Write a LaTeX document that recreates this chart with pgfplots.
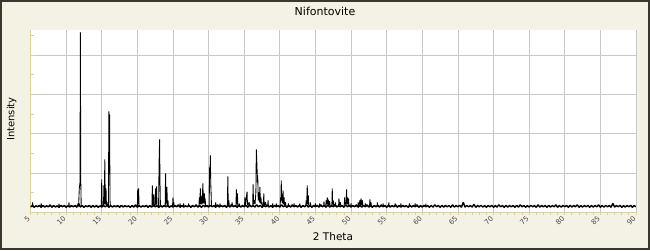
\documentclass[border=0pt]{standalone}
\usepackage{fontspec}
\setmainfont{DejaVu Sans}
\usepackage{pgfplots}
\pgfplotsset{compat=1.18}
\definecolor{bgc}{HTML}{F4F1E5}
\definecolor{bordc}{HTML}{3A3630}
\definecolor{axisc}{HTML}{DDD397}
\definecolor{gridc}{HTML}{C8C8C8}
\definecolor{tickc}{HTML}{484848}
\begin{document}
\begin{tikzpicture}
\useasboundingbox (0,0) rectangle (650pt,250pt);
\fill[bgc] (0,0) rectangle (650pt,250pt);
\draw[bordc, line width=2pt] (1pt,1pt) rectangle (649pt,249pt);
\begin{axis}[
  at={(30.5pt,37.7pt)}, anchor=south west, scale only axis,
  width=605.5pt, height=182.3pt,
  xmin=5, xmax=90, ymin=0, ymax=182.3,
  axis lines=left, axis line style={-, axisc, line width=1pt},
  axis background/.style={fill=white},
  grid=major, major grid style={gridc, line width=0.8pt},
  xtick={5,10,...,90}, minor x tick num=4,
  ytick={39.3,78.6,117.9,157.2}, yticklabels={},
  minor ytick={19.65,58.95,98.25,137.55,176.85},
  tick align=inside,
  tick style={axisc, line width=0.8pt},
  major tick length=3pt, minor tick length=3pt,
  xtick style={yshift=-3pt},
  /pgf/number format/assume math mode=true,
  xticklabel style={font=\fontsize{7}{8}\selectfont, text=tickc, inner sep=0pt, xshift=-1.5pt, yshift=-5pt, rotate=45, anchor=east},
]
% baseline noise
\addplot[black, line width=1.4pt, line join=bevel] coordinates {
(5,5.2)(5.25,6.8)(5.5,5)(5.75,6.5)(6,5.5)(6.25,7)(6.5,5)(6.75,6.8)(7,5.2)(7.25,6.5)(7.5,5.5)(7.75,7.5)(8,5)(8.25,6.8)(8.5,5.2)(8.75,6.5)(9,5)(9.25,7)(9.5,5.5)(9.75,6.8)
(10,5)(10.25,6.5)(10.5,5.2)(10.75,6.8)(11,5.5)(11.25,6.8)(11.5,5)(11.75,9)(12,5.2)(12.25,6.8)(12.5,5)(12.75,6.5)(13,5.5)(13.25,7)(13.5,5)(13.75,6.8)(14,5.2)(14.25,6.8)(14.5,5)(14.75,6.5)
(15,5.2)(15.25,6.8)(15.5,5.5)(15.75,7)(16,5)(16.25,6.8)(16.5,5.2)(16.75,6.5)(17,5.5)(17.25,6.8)(17.5,5)(17.75,7)(18,5.2)(18.25,6.8)(18.5,5.5)(18.75,6.5)(19,5)(19.25,6.8)(19.5,5.2)(19.75,7.5)
(20,5)(20.25,6.8)(20.5,5.2)(20.75,6.5)(21,5.5)(21.25,7)(21.5,5)(21.75,6.8)(22,5.2)(22.25,6.8)(22.5,5.5)(22.75,6.5)(23,5)(23.25,6.8)(23.5,5.2)(23.75,7)(24,5.5)(24.25,6.8)(24.5,5)(24.75,6.5)
(25,5.2)(25.25,6.8)(25.5,5.5)(25.75,7.5)(26,5)(26.25,6.8)(26.5,5.2)(26.75,6.5)(27,5.5)(27.25,7)(27.5,5)(27.75,6.8)(28,5.5)(28.25,7.5)(28.5,5.2)(28.75,6.8)(29,5)(29.25,7)(29.5,5.5)(29.75,6.8)
(30,5.2)(30.25,7)(30.5,5.5)(30.75,6.8)(31,5)(31.25,7.5)(31.5,5.2)(31.75,6.8)(32,5.5)(32.25,7)(32.5,5)(32.75,6.8)(33,5.2)(33.25,8)(33.5,5.5)(33.75,6.8)(34,5)(34.25,7)(34.5,5.2)(34.75,6.8)
(35,5.5)(35.25,7)(35.5,5)(35.75,7.5)(36,5.5)(36.25,6.8)(36.5,5.2)(36.75,7.5)(37,5.5)(37.25,7)(37.5,5)(37.75,6.8)(38,5.5)(38.25,7.5)(38.5,5.2)(38.75,6.8)(39,5)(39.25,7)(39.5,5.5)(39.75,6.8)
(40,5.2)(40.25,7.5)(40.5,5.5)(40.75,6.8)(41,5)(41.25,7)(41.5,5.2)(41.75,7.5)(42,5.5)(42.25,6.8)(42.5,5.2)(42.75,7)(43,5)(43.25,6.8)(43.5,5.5)(43.75,7.5)(44,5.2)(44.25,6.8)(44.5,5)(44.75,7)
(45,5.5)(45.25,6.8)(45.5,5.2)(45.75,7.5)(46,5.5)(46.25,7)(46.5,5)(46.75,7.5)(47,5.2)(47.25,6.8)(47.5,5.5)(47.75,8)(48,5.2)(48.25,6.8)(48.5,5.5)(48.75,7)(49,5)(49.25,7.5)(49.5,5.5)(49.75,7)
(50,5.2)(50.25,6.8)(50.5,5.5)(50.75,7.5)(51,5)(51.25,7)(51.5,5.2)(51.75,6.8)(52,5.5)(52.25,7.5)(52.5,5.2)(52.75,6.8)(53,5)(53.25,7)(53.5,5.5)(53.75,6.8)(54,5.2)(54.25,7.5)(54.5,5.5)(54.75,6.8)
(55,5)(55.25,7)(55.5,5.2)(55.75,6.8)(56,5.5)(56.25,7.5)(56.5,5)(56.75,6.8)(57,5.2)(57.25,7)(57.5,5.5)(57.75,6.8)(58,5)(58.25,7)(58.5,5.2)(58.75,6.8)(59,5.5)(59.25,7.5)(59.5,5)(59.75,6.8)
(60,5.2)(60.25,7)(60.5,5.5)(60.75,6.8)(61,5)(61.25,6.8)(61.5,5.2)(61.75,7.5)(62,5.5)(62.25,6.8)(62.5,5)(62.75,7)(63,5.2)(63.25,6.8)(63.5,5.5)(63.75,6.8)(64,5)(64.25,7.5)(64.5,5.2)(64.75,6.8)
(65,5.5)(65.25,7)(65.5,5)(65.75,10)(66,5.2)(66.25,6.8)(66.5,5.5)(66.75,6.8)(67,5.2)(67.25,8)(67.5,5)(67.75,6.8)(68,5.5)(68.25,7)(68.5,5.2)(68.75,6.8)(69,5)(69.25,6.8)(69.5,5.5)(69.75,7)
(70,5)(70.25,6.8)(70.5,5.2)(70.75,7.5)(71,5.5)(71.25,6.8)(71.5,5)(71.75,7)(72,5.2)(72.25,6.8)(72.5,5.5)(72.75,6.8)(73,5)(73.25,7)(73.5,5.2)(73.75,7.5)(74,5.5)(74.25,6.8)(74.5,5)(74.75,6.8)
(75,5.2)(75.25,7)(75.5,5.5)(75.75,6.8)(76,5)(76.25,7.5)(76.5,5.2)(76.75,6.8)(77,5.5)(77.25,6.8)(77.5,5)(77.75,7)(78,5.2)(78.25,6.8)(78.5,5.5)(78.75,7.5)(79,5)(79.25,6.8)(79.5,5.2)(79.75,7)
(80,5.5)(80.25,6.8)(80.5,5)(80.75,7)(81,5.2)(81.25,6.8)(81.5,5.5)(81.75,7.5)(82,5)(82.25,6.8)(82.5,5.2)(82.75,6.8)(83,5.5)(83.25,7)(83.5,5)(83.75,6.8)(84,5.2)(84.25,6.8)(84.5,5.5)(84.75,7.5)
(85,5)(85.25,6.8)(85.5,5.2)(85.75,7)(86,5.5)(86.25,6.8)(86.5,5)(86.75,9)(87,5.2)(87.25,6.8)(87.5,5.5)(87.75,7)(88,5)(88.25,6.8)(88.5,5.2)(88.75,6.8)(89,5.5)(89.25,7)(89.5,5)(89.75,6.8)(90,5.5)
};
% diffraction peaks
\addplot[black, line width=0.85pt, line join=bevel] coordinates {
(5.0,6)(5.25,6)(5.3,10)(5.35,6)
(6.45,6)(6.5,9)(6.55,6)
(8.95,6)(9,8.5)(9.05,6)
(10.35,6)(10.4,10)(10.45,6)
(11.75,6)(11.85,24)(11.95,30)(12.0,180)(12.06,30)(12.12,6)
(14.94,6)(15.0,33)(15.06,6)
(15.25,6)(15.3,27)(15.36,8)(15.43,53)(15.5,8)(15.6,24)(15.66,7)(15.75,10)(15.82,6)
(15.94,6)(16.0,101)(16.05,60)(16.1,98)(16.16,12)(16.22,6)
(20.0,6)(20.05,23)(20.11,8)(20.18,24)(20.24,6)
(22.05,6)(22.1,27)(22.16,7)(22.3,18)(22.36,6)
(22.5,6)(22.55,24)(22.62,8)(22.7,26)(22.76,6)
(22.98,6)(23.05,49)(23.12,73)(23.18,30)(23.24,6)
(23.9,6)(23.96,39)(24.02,8)(24.15,25.5)(24.22,7)(24.3,12)(24.36,6)
(24.94,6)(25.0,15)(25.06,7)(25.12,10)(25.18,6)
(25.95,6)(26.0,9)(26.05,6)(26.45,6)(26.5,9)(26.55,6)(27.15,6)(27.2,9)(27.25,6)
(28.64,6)(28.7,15)(28.77,8)(28.84,24)(28.92,8)(29.0,16)(29.08,8)(29.2,29)(29.27,9)(29.4,19)(29.46,8)(29.52,14)(29.58,6)
(30.08,6)(30.15,45)(30.2,40)(30.25,57)(30.3,30)(30.35,20)(30.41,6)
(30.95,6)(31,10)(31.05,6)(31.55,6)(31.6,9)(31.65,6)
(32.64,6)(32.7,36)(32.76,7)(32.85,12)(32.91,6)
(33.25,6)(33.3,10)(33.35,6)
(33.84,6)(33.9,23)(33.97,8)(34.05,19)(34.11,6)(34.25,6)(34.3,9)(34.35,6)
(35.04,6)(35.1,15)(35.17,7)(35.4,20.7)(35.46,7)(35.7,10)(35.76,6)
(36.19,6)(36.25,28)(36.31,8)(36.45,12)(36.52,8)(36.64,20)(36.7,63)(36.75,55)(36.8,45)(36.85,30)(36.9,37)(36.97,12)(37.05,20)(37.12,10)(37.2,25.5)(37.27,9)(37.35,15)(37.42,8)(37.5,10)(37.56,6)
(37.69,6)(37.75,19)(37.81,7)(38,10)(38.06,6)(38.3,6)(38.35,12)(38.4,6)(38.95,6)(39,9)(39.05,6)(39.45,6)(39.5,9)(39.55,6)
(40.04,6)(40.1,15)(40.15,10)(40.2,32)(40.26,12)(40.32,18)(40.38,9)(40.45,22)(40.52,8)(40.6,15)(40.66,7)(40.8,10)(40.86,6)
(41.15,6)(41.2,9)(41.25,6)(41.95,6)(42,9)(42.05,6)(42.75,6)(42.8,9)(42.85,6)
(43.64,6)(43.7,12)(43.77,8)(43.85,27)(43.92,8)(44,17)(44.06,6)(44.25,6)(44.3,10)(44.35,6)(44.95,6)(45,9)(45.05,6)
(45.55,6)(45.6,9)(45.65,6)(46.15,6)(46.2,11)(46.25,6)(46.45,6)(46.5,12)(46.58,8)(46.66,15)(46.73,8)(46.8,13)(46.87,7)(47,11)(47.06,6)
(47.3,6)(47.36,24)(47.42,8)(47.5,12)(47.56,6)(47.75,6)(47.8,10)(47.85,6)
(48.25,6)(48.3,14)(48.37,7)(48.5,10)(48.56,6)
(49.04,6)(49.1,15)(49.17,8)(49.25,10)(49.31,8)(49.37,23)(49.43,8)(49.5,15)(49.57,8)(49.65,14)(49.71,6)(49.95,6)(50,9)(50.05,6)
(50.95,6)(51,10)(51.06,6)(51.25,12)(51.32,7)(51.4,14)(51.47,7)(51.6,12)(51.66,6)(51.95,6)(52,9)(52.05,6)
(52.59,6)(52.65,13)(52.72,7)(52.8,10)(52.86,6)
(53.65,6)(53.7,10)(53.75,6)(54.45,6)(54.5,9)(54.55,6)(55.25,6)(55.3,10)(55.35,6)
(56.15,6)(56.2,9)(56.25,6)(56.95,6)(57,9)(57.05,6)(58.15,6)(58.2,9)(58.25,6)(58.95,6)(59,9)(59.05,6)(60.45,6)(60.5,8.5)(60.55,6)
};
\end{axis}
\node[font=\fontsize{11}{13}\selectfont, text=black] at (325pt,238.5pt) {Nifontovite};
\node[font=\fontsize{10.5}{12}\selectfont, text=black] at (333pt,13.3pt) {2 Theta};
\node[font=\fontsize{10}{12}\selectfont, text=black, rotate=90] at (11.7pt,131pt) {Intensity};
\end{tikzpicture}
\end{document}
